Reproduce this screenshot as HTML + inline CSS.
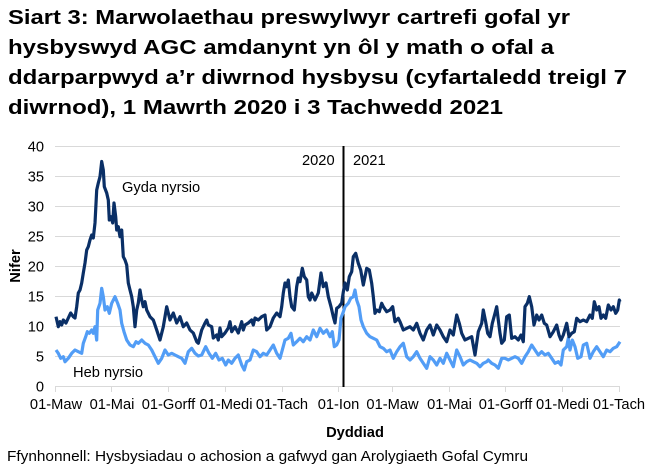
<!DOCTYPE html>
<html>
<head>
<meta charset="utf-8">
<style>
html,body{margin:0;padding:0;background:#fff;}
svg{display:block;}
text{font-family:"Liberation Sans",Arial,sans-serif;fill:#000;}
</style>
</head>
<body>
<svg width="656" height="473" viewBox="0 0 656 473" xmlns="http://www.w3.org/2000/svg">
<rect width="656" height="473" fill="#fff"/>
<!-- Title -->
<g font-weight="bold" font-size="20">
<text x="8" y="24" textLength="562" lengthAdjust="spacingAndGlyphs">Siart 3: Marwolaethau preswylwyr cartrefi gofal yr</text>
<text x="8" y="54" textLength="546" lengthAdjust="spacingAndGlyphs">hysbyswyd AGC amdanynt yn ôl y math o ofal a</text>
<text x="8" y="84" textLength="619" lengthAdjust="spacingAndGlyphs">ddarparpwyd a’r diwrnod hysbysu (cyfartaledd treigl 7</text>
<text x="8" y="114" textLength="495" lengthAdjust="spacingAndGlyphs">diwrnod), 1 Mawrth 2020 i 3 Tachwedd 2021</text>
</g>
<!-- Gridlines -->
<g stroke="#d9d9d9" stroke-width="1">
<line x1="55" y1="146.5" x2="620" y2="146.5"/>
<line x1="55" y1="176.5" x2="620" y2="176.5"/>
<line x1="55" y1="206.5" x2="620" y2="206.5"/>
<line x1="55" y1="236.5" x2="620" y2="236.5"/>
<line x1="55" y1="266.5" x2="620" y2="266.5"/>
<line x1="55" y1="296.5" x2="620" y2="296.5"/>
<line x1="55" y1="326.5" x2="620" y2="326.5"/>
<line x1="55" y1="356.5" x2="620" y2="356.5"/>
<line x1="55" y1="386.5" x2="620" y2="386.5"/>
<line x1="55.5" y1="386" x2="55.5" y2="392"/>
<line x1="111.5" y1="386" x2="111.5" y2="392"/>
<line x1="168.5" y1="386" x2="168.5" y2="392"/>
<line x1="225.5" y1="386" x2="225.5" y2="392"/>
<line x1="282.5" y1="386" x2="282.5" y2="392"/>
<line x1="338.5" y1="386" x2="338.5" y2="392"/>
<line x1="392.5" y1="386" x2="392.5" y2="392"/>
<line x1="449.5" y1="386" x2="449.5" y2="392"/>
<line x1="505.5" y1="386" x2="505.5" y2="392"/>
<line x1="562.5" y1="386" x2="562.5" y2="392"/>
<line x1="619.5" y1="386" x2="619.5" y2="392"/>
</g>
<!-- Y tick labels -->
<g font-size="14.67" text-anchor="end">
<text x="44" y="151.5">40</text>
<text x="44" y="181.5">35</text>
<text x="44" y="211.5">30</text>
<text x="44" y="241.5">25</text>
<text x="44" y="271.5">20</text>
<text x="44" y="301.5">15</text>
<text x="44" y="331.5">10</text>
<text x="44" y="361.5">5</text>
<text x="44" y="391.5">0</text>
</g>
<!-- X tick labels -->
<g font-size="14.67" text-anchor="middle">
<text x="56" y="409">01-Maw</text>
<text x="112" y="409">01-Mai</text>
<text x="168.5" y="409">01-Gorff</text>
<text x="226" y="409">01-Medi</text>
<text x="282" y="409">01-Tach</text>
<text x="338.5" y="409">01-Ion</text>
<text x="392.5" y="409">01-Maw</text>
<text x="449.5" y="409">01-Mai</text>
<text x="505.5" y="409">01-Gorff</text>
<text x="562.5" y="409">01-Medi</text>
<text x="619" y="409">01-Tach</text>
</g>
<!-- Axis titles -->
<text x="355" y="437" font-size="14.67" font-weight="bold" text-anchor="middle">Dyddiad</text>
<text transform="translate(20,266) rotate(-90)" font-size="14.67" font-weight="bold" text-anchor="middle">Nifer</text>
<text x="7" y="461" font-size="14.67" textLength="521" lengthAdjust="spacingAndGlyphs">Ffynhonnell: Hysbysiadau o achosion a gafwyd gan Arolygiaeth Gofal Cymru</text>
<!-- Vertical divider -->
<line x1="343.5" y1="146" x2="343.5" y2="387" stroke="#000" stroke-width="2"/>
<g font-size="14.67">
<text x="302" y="165">2020</text>
<text x="353" y="165">2021</text>
<text x="122" y="192">Gyda nyrsio</text>
<text x="73" y="377">Heb nyrsio</text>
</g>
<!-- Heb nyrsio (light) -->
<polyline fill="none" stroke="#529df6" stroke-width="3.2" stroke-linejoin="round" points="
56,350 58.3,353.3 60.7,358.3 63.3,356.7 65,361.7 68.3,358.3 71.7,353.3 75,350 78.3,351.7 81.7,353.3 83.3,343.3 85.7,336.7 87.3,331.7 89.3,333.3 91.7,330 93.3,333.3 95,326.7 96.7,340 97.7,310 100,303.3 101.7,288.3 103.3,296.7 105,310 107.3,306.7 109.3,313.3 111.7,303.3 115,296.7 117.7,303.3 120,310 121.7,323.3 124,331.7 126.7,340 130,345 133.3,346.7 136,341.7 138.3,343.3 141.7,340 145,343.3 148.3,345 151.7,350 155,356.7 158.3,363.3 161.7,358.3 165,350 168.3,355 171.7,353.3 175,355 178.3,356.7 181.7,358.3 185,363.3 188.3,351.7 191.7,348.3 195,353.3 198.3,356 201.7,355 205.7,346.7 209,353.3 212.3,358.3 215.7,353.3 219,360 222.3,358.3 225.7,365 228.3,360 231.7,363.3 235,358.3 238.3,355 241.7,365 244.3,370 246.7,361.7 250,360 253.3,350 256.7,351.7 260,356.7 263.3,353.3 266.7,355 270,350 273.3,345 276.7,353.3 280,358.3 282.3,350 285,340 288.3,338.3 291,333.3 293.3,345 296.7,341.7 300,338.3 303.3,341.7 306.7,336.7 310,340 313.3,330 316.7,336.7 320,328.3 323.3,333.3 326.7,330 330,336.7 332.3,331.7 334.3,346.7 336.7,345 339,340 341,318 343.3,312 345,306.7 348.3,303.3 350.7,298.3 353.3,296.7 355,290 356.7,300 359,306.7 361,320 363.3,326.7 366.7,333.3 370,336.7 373.3,338.3 376.7,340 380,346.7 383.3,348.3 386.7,351.7 390,350 393.3,358.3 396.7,351.7 400,346.7 403.3,343.3 406.7,356.7 410,360 413.3,356.7 416.7,351.7 420,358.3 423.3,363.3 426.7,368.3 430,356.7 433.3,360 436.7,365 440,358.3 443.3,363.3 446.7,353.3 450,360 453.3,366.7 456.7,350 460,356.7 463.3,365 466.7,361.7 470,360 473.3,361.7 476.7,363.3 480,366.7 483.3,363.3 486.7,361.7 488.3,360 491.7,363.3 495,365 498.3,368.3 501.7,358.3 505,358.3 508.3,360 511.7,358.3 515,356.7 518.3,358.3 521.7,363.3 525,356.7 528.3,351.7 531.7,345 535,350 538.3,355 541.7,351.7 545,355 548.3,353.3 551.7,358.3 555,363.3 558.3,361.7 561,365 563.3,350 566.7,346.7 568.3,338.3 570,350 572.3,340 575,346.7 577.7,358.3 581,356.7 583.3,345 586.7,343.3 590,358.3 593.3,351.7 596.7,346.7 600,351.7 603.3,356.7 606.7,350 610,351.7 613.3,348.3 616.7,346.7 620,341.7"/>
<!-- Gyda nyrsio (dark) -->
<polyline fill="none" stroke="#0a2f66" stroke-width="3.2" stroke-linejoin="round" points="
56,316.7 58.3,326.7 60,321.7 61.7,325 63.3,320 66,323 68.3,318 70.7,313 73.3,316.7 75,318 76.7,306.7 78.3,293 80,290 81.7,283 83.3,273 85,263 86.7,250 88.3,246.7 90,240 91.7,235 93.3,238 95,223 96.7,190 98.3,183 100,176.7 101.7,161.5 103.3,170 104.3,186.7 106.7,193 108.3,200 109.3,220 111,216.7 112.7,223 114,203 115.7,216.7 116.7,230 118.3,226.7 120,236.7 121.7,230 123.3,256.7 125,260 126.7,265 128.3,283 130,290 131.7,296.7 133.3,306.7 135,326.7 136.7,310 138.3,303 140,290 141.7,300 143.3,306.7 145,301.7 146.7,310 150,316.7 153.3,320 156.7,330 160,340 163.3,326.7 166.7,306.7 168.3,313 170,320 173.3,313 176.7,323 180,316.7 183.3,326.7 186.7,323 190,330 193.3,333 196.7,341.7 198.3,343.3 201.7,330 205,323 206.7,320 208.3,325 211.7,326.7 213.3,338 216.7,335 218.3,340 220,328 221.7,336.7 225,333 228.3,328 230,321.7 231.7,331.7 235,326.7 238.3,333 241.7,321.7 243.3,330 245,325 248.3,323 251.7,320 253.3,325 255,318 258.3,320 261.7,316.7 265,315 266.7,330 270,326.7 273.3,318 276.7,313 280,316.7 281.7,306.7 283.3,293 285,283 286.7,286.7 288.3,280 290,296.7 291.7,306.7 294.3,310 296.7,286.7 298.3,278 300,281.7 302.3,268.3 304.3,276.7 306.7,280 308.3,296.7 310,300 311.7,293 315,300 318.3,293 321,273 323.3,286.7 326,283 328.3,296.7 331,306.7 333.3,316.7 335,323 336.7,308.3 339,306.7 341.7,303 343.3,292 345,283 347.3,290 349.3,276.7 351.7,271.7 353.3,256.7 355.7,253.3 358.3,263.3 360.7,270 363.3,285 365,276.7 366.7,268.3 369.3,270 371.7,283.3 373.3,296.7 375,313.3 376.7,310 379.3,311.7 381.7,303.3 383.3,306.7 386.7,311.7 390,310 392.7,306.7 395,321.7 398.3,318.3 400,321.7 403.3,330 406.7,328.3 410,326.7 413.3,330 416.7,323.3 420,333.3 423.3,340 426.7,330 430,325 433.3,335 436.7,325 440,330 443.3,336.7 446.7,341.7 450,330 453.3,335 456.7,315 459.3,323.3 461.7,333.3 465,340 468.3,338.3 471.7,336.7 475,355 478.3,331.7 481.7,323.3 483.3,310 485.7,322 487.7,333.3 490,336.7 492.3,323.3 495,313.3 496.7,306.7 498.3,320 500,333.3 501.7,343.3 504.3,340 506.7,316.7 509.3,315 511.7,338.3 515,336.7 518.3,340 521,335 523.3,341.7 525,306.7 527.3,303.3 529.3,296.7 531.7,306.7 534,325 536.7,315 539,320 541.7,315 544.3,323.3 546.7,325 550,336.7 553.3,331.7 556.7,325 559,335 561,340 563.3,335 566.7,323.3 569,336.7 571.7,333.3 574.3,331.7 576.7,318.3 580,321.7 583.3,320 586.7,321.7 590,315 592.3,318.3 594.3,301.7 596.7,310 599,306.7 601,318.3 603.3,315 605.7,318.3 608.3,305 611,310 613.3,306.7 615.7,313.3 617.7,310 619.3,300 620,301.7"/>
</svg>
</body>
</html>
